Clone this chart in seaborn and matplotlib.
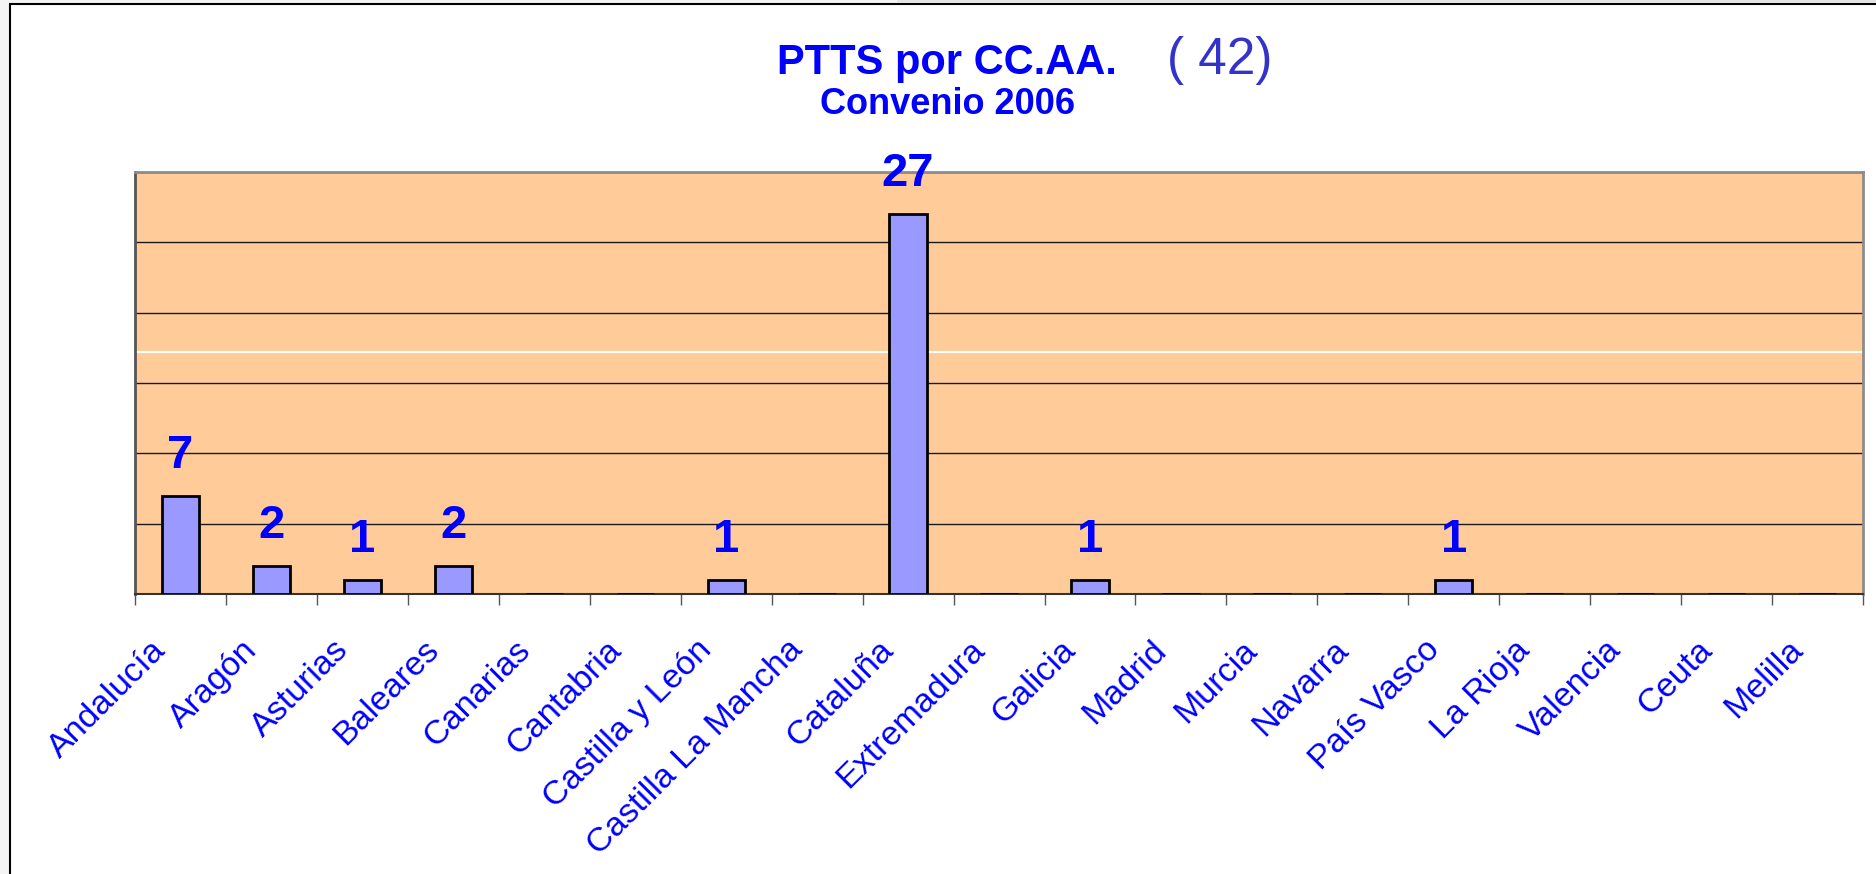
import numpy as np
import matplotlib.pyplot as plt
import matplotlib.transforms as mtransforms
from matplotlib.patches import Rectangle
import seaborn as sns

# Datos: PTTS por comunidad autónoma, convenio 2006
regiones = ["Andalucía", "Aragón", "Asturias", "Baleares", "Canarias", "Cantabria",
            "Castilla y León", "Castilla La Mancha", "Cataluña", "Extremadura",
            "Galicia", "Madrid", "Murcia", "Navarra", "País Vasco", "La Rioja",
            "Valencia", "Ceuta", "Melilla"]
valores = [7, 2, 1, 2, 0, 0, 1, 0, 27, 0, 1, 0, 0, 0, 1, 0, 0, 0, 0]
total = sum(valores)

sns.set_style("white")
plt.rcParams["font.family"] = ["Liberation Sans", "DejaVu Sans"]

AZUL = "#0000FF"

fig = plt.figure(figsize=(18.76, 8.74), dpi=100)
fig.patch.set_facecolor("#f4f4f4")
# marco blanco de la diapositiva
fig.patches.append(Rectangle((10 / 1876, -0.1), 1.1, 1 - 4 / 874 + 0.1,
                             transform=fig.transFigure, facecolor="white",
                             edgecolor="black", linewidth=1.5, zorder=-2))
fig.patches.append(Rectangle((897 / 1876, 1 - 3 / 874), 1, 3 / 874,
                             transform=fig.transFigure, facecolor="#e4e4e4",
                             edgecolor="none", zorder=-1))

ax = fig.add_axes([0.072, 0.3204, 0.9211, 0.4828])
ax.set_facecolor("#FFCC99")

sns.barplot(x=regiones, y=valores, color="#9999FF", saturation=1,
            edgecolor="black", linewidth=2, width=0.41, ax=ax, zorder=3)

ax.set_ylim(0, 30)
ax.set_xlim(-0.5, len(regiones) - 0.5)
ax.set_yticks(np.arange(0, 31, 5))
ax.set_yticklabels([])
ax.tick_params(axis="y", length=0)
ax.yaxis.grid(True, color="#1a1a1a", linewidth=1)
ax.set_axisbelow(True)
ax.axhline(17.2, color="white", linewidth=1.5, zorder=1)
ax.set_xlabel("")
ax.set_ylabel("")

# marcas entre categorías
ax.set_xticks(np.arange(-0.5, len(regiones)), minor=True)
ax.tick_params(axis="x", which="minor", length=8, width=1, color="#555555",
               direction="out", bottom=True)
ax.tick_params(axis="x", which="major", length=0, pad=37)
ax.set_xticks(range(len(regiones)))
ax.set_xticklabels(regiones, rotation=45, ha="right", va="center",
                   rotation_mode="anchor", fontsize=24.5, color=AZUL)
desplaza = mtransforms.ScaledTranslation(-19 / 100, 0, fig.dpi_scale_trans)
for lab in ax.get_xticklabels():
    lab.set_transform(lab.get_transform() + desplaza)

for lado in ["top", "right"]:
    ax.spines[lado].set_color("#8c8c8c")
    ax.spines[lado].set_linewidth(2)
ax.spines["left"].set_color("#555555")
ax.spines["left"].set_linewidth(2)
ax.spines["bottom"].set_color("#333333")
ax.spines["bottom"].set_linewidth(1.5)

# etiquetas de valor
for i, v in enumerate(valores):
    if v > 0:
        ax.annotate(str(v), (i, v), xytext=(0, 20), textcoords="offset points",
                    ha="center", va="baseline", fontsize=34, fontweight="bold",
                    color=AZUL, zorder=4)

# títulos
fig.text(947 / 1876, 1 - 74 / 874, "PTTS por CC.AA.", ha="center", va="baseline",
         fontsize=30, fontweight="bold", color=AZUL)
fig.text(1220 / 1876, 1 - 74 / 874, f"( {total})", ha="center", va="baseline",
         fontsize=37, color="#3333CC")
fig.text(947 / 1876, 1 - 114 / 874, "Convenio 2006", ha="center", va="baseline",
         fontsize=26, fontweight="bold", color=AZUL)

plt.savefig("out.png", dpi=100)
